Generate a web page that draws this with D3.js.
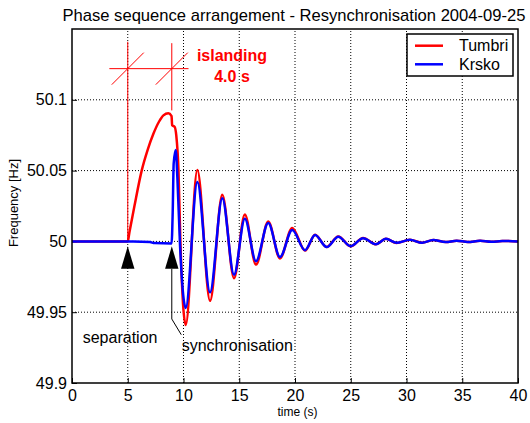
<!DOCTYPE html>
<html>
<head>
<meta charset="utf-8">
<script src="https://cdn.jsdelivr.net/npm/d3@7"></script>
<style>
  body { margin: 0; background: #fff; }
  svg { display: block; }
</style>
</head>
<body>
<div id="chart"></div>
<script>
// tick labels
const xTicks = [0, 5, 10, 15, 20, 25, 30, 35, 40];
const yTicks = [49.9, 49.95, 50, 50.05, 50.1];

// Tumbri (red)
const tumbriTime = [0, 5.0, 5.15, 5.6, 6.25, 6.8, 7.3, 7.8, 8.2, 8.64, 8.93, 8.98, 9.2, 9.35, 9.55, 9.72,
  10.2, 11.24, 12.38, 13.48, 14.53, 15.5, 16.5, 17.6, 18.65, 19.75, 20.9, 21.8, 22.84, 23.88, 25.0,
  26.1, 27.26, 28.16, 29.1, 30.3, 31.4, 32.4, 33.5, 34.5, 35.5, 36.6, 37.6, 38.6, 40];
const tumbriFreq = [50, 50, 50.0065, 50.025, 50.05, 50.065, 50.076, 50.0845, 50.089, 50.0905, 50.0885, 50.082, 50.081, 50.075, 50.05, 50.0,
  49.941, 50.0505, 49.958, 50.033, 49.974, 50.019, 49.9836, 50.014, 49.988, 50.0095, 49.9935, 50.0047, 49.996, 50.0035, 49.9965,
  50.0024, 49.998, 50.0019, 49.9989, 50.0012, 49.999, 50.001, 49.9995, 50.0005, 49.9996, 50.0004, 49.9997, 50.0003, 50.0];

// Krsko (blue)
const krskoTime = [0, 5.5, 7.0, 7.4, 8.93, 9.03, 9.12, 9.3, 9.45, 9.69,
  10.2, 11.24, 12.38, 13.48, 14.53, 15.5, 16.5, 17.6, 18.65, 19.75, 20.9, 21.8, 22.84, 23.88, 25.0,
  26.1, 27.26, 28.16, 29.1, 30.3, 31.4, 32.4, 33.5, 34.5, 35.5, 36.6, 37.6, 38.6, 40];
const krskoFreq = [50, 50, 49.9995, 49.9988, 49.9986, 50.02, 50.055, 50.0646, 50.045, 49.997,
  49.953, 50.042, 49.964, 50.0305, 49.9765, 50.016, 49.986, 50.013, 49.989, 50.008, 49.9938, 50.0045, 49.996, 50.0033, 49.9966,
  50.0023, 49.998, 50.0018, 49.999, 50.0011, 49.999, 50.001, 49.9995, 50.0005, 49.9996, 50.0004, 49.9997, 50.0003, 50.0];

const seriesNames = ["Tumbri", "Krsko"];
const seriesColors = ["#ff0000", "#0000ff"];

// events
const tSeparation = 5.0;
const tSync = 8.95;

const width = 530, height = 423;
const marginTop = 29, marginRight = 12, marginBottom = 40, marginLeft = 72;

const x = d3.scaleLinear([0, 40], [marginLeft, width - marginRight]);
const y = d3.scaleLinear([49.9, 50.15], [height - marginBottom, marginTop]);

const svg = d3.select("#chart").append("svg")
    .attr("width", width)
    .attr("height", height)
    .attr("viewBox", [0, 0, width, height])
    .attr("font-family", "'Liberation Sans', Arial, sans-serif");

// dotted grid
svg.append("g")
  .selectAll("line")
  .data(xTicks.slice(1, -1))
  .join("line")
    .attr("x1", d => x(d)).attr("x2", d => x(d))
    .attr("y1", y.range()[0]).attr("y2", y.range()[1])
    .attr("stroke", "#000")
    .attr("stroke-dasharray", "1,2");

svg.append("g")
  .selectAll("line")
  .data(yTicks.slice(1))
  .join("line")
    .attr("x1", x.range()[0]).attr("x2", x.range()[1])
    .attr("y1", d => y(d)).attr("y2", d => y(d))
    .attr("stroke", "#000")
    .attr("stroke-dasharray", "1,2");

// axes (labels only, ticks inside)
svg.append("g")
    .attr("transform", `translate(0,${height - marginBottom})`)
    .call(d3.axisBottom(x).tickValues(xTicks).tickSizeInner(-5).tickSizeOuter(0).tickPadding(7))
    .call(g => g.select(".domain").remove())
    .attr("font-size", 16).attr("font-family", null)
    .call(g => g.selectAll("text").attr("fill", "#000"));

svg.append("g")
    .attr("transform", `translate(${marginLeft},0)`)
    .call(d3.axisLeft(y).tickValues(yTicks).tickFormat(d => String(+d.toFixed(2))).tickSizeInner(-5).tickSizeOuter(0).tickPadding(5))
    .call(g => g.select(".domain").remove())
    .attr("font-size", 16).attr("font-family", null)
    .call(g => g.selectAll("text").attr("fill", "#000"));

// red islanding dimension
const dimLevel = 50.122;
const ann = svg.append("g").attr("stroke", "#ff0000").attr("stroke-width", 1).attr("fill", "none");
ann.append("line")
    .attr("x1", x(tSeparation)).attr("x2", x(tSeparation))
    .attr("y1", y(50.141)).attr("y2", y(50));
ann.append("line")
    .attr("x1", x(tSync)).attr("x2", x(tSync))
    .attr("y1", y(50.14)).attr("y2", y(50.0925));
ann.append("line")
    .attr("x1", x(3.35)).attr("x2", x(10.45))
    .attr("y1", y(dimLevel)).attr("y2", y(dimLevel));
ann.selectAll(".tick-d")
  .data([tSeparation, tSync])
  .join("line")
    .attr("x1", d => x(d) - 16).attr("x2", d => x(d) + 16)
    .attr("y1", y(dimLevel) + 16).attr("y2", y(dimLevel) - 16);

svg.append("g")
    .attr("fill", "#ff0000")
    .attr("font-weight", "bold")
    .attr("font-size", 16)
    .attr("text-anchor", "middle")
  .selectAll("text")
  .data([["islanding", 50.1275], ["4.0 s", 50.1128]])
  .join("text")
    .attr("x", x(14.35))
    .attr("y", d => y(d[1]))
    .text(d => d[0]);

// series
const line = d3.line().curve(d3.curveMonotoneX);
const series = [
  d3.zip(tumbriTime, tumbriFreq),
  d3.zip(krskoTime, krskoFreq)
];
svg.append("g")
    .attr("fill", "none")
    .attr("stroke-width", 2.5)
    .attr("stroke-linejoin", "round")
  .selectAll("path")
  .data(series)
  .join("path")
    .attr("stroke", (d, i) => seriesColors[i])
    .attr("d", d => line(d.map(([t, f]) => [x(t), y(f)])));

// arrows
const tipF = 49.9965, baseF = 49.9806;
svg.append("g")
  .selectAll("path")
  .data([tSeparation, tSync])
  .join("path")
    .attr("fill", "#000")
    .attr("d", d => `M${x(d)},${y(tipF)}L${x(d) + 6.7},${y(baseF)}L${x(d) - 6.7},${y(baseF)}Z`);

svg.append("path")
    .attr("fill", "none")
    .attr("stroke", "#000")
    .attr("stroke-width", 1)
    .attr("d", d3.line()([[x(tSync), y(baseF)], [x(tSync), y(49.9452)], [x(9.8), y(49.9341)]]));

svg.append("text")
    .attr("x", x(0.96)).attr("y", y(49.9281))
    .attr("font-size", 16).attr("fill", "#000")
    .text("separation");
svg.append("text")
    .attr("x", x(9.84)).attr("y", y(49.9223))
    .attr("font-size", 16).attr("fill", "#000")
    .text("synchronisation");

// box
svg.append("rect")
    .attr("x", x.range()[0]).attr("y", y.range()[1])
    .attr("width", x.range()[1] - x.range()[0])
    .attr("height", y.range()[0] - y.range()[1])
    .attr("fill", "none")
    .attr("stroke", "#000")
    .attr("stroke-width", 1.5);

// legend
const legend = svg.append("g").attr("transform", "translate(407,34)");
legend.append("rect")
    .attr("width", 106).attr("height", 42)
    .attr("fill", "#fff").attr("stroke", "#000").attr("stroke-width", 1.5);
const item = legend.selectAll(".item")
  .data(seriesNames)
  .join("g")
    .attr("transform", (d, i) => `translate(0,${11.7 + i * 18.6})`);
item.append("line")
    .attr("x1", 8).attr("x2", 36)
    .attr("stroke", (d, i) => seriesColors[i])
    .attr("stroke-width", 2.5);
item.append("text")
    .attr("x", 52).attr("dy", "0.36em")
    .attr("font-size", 16)
    .text(d => d);

// title and axis labels
svg.append("text")
    .attr("x", (x.range()[0] + x.range()[1]) / 2 - 1).attr("y", 20.5)
    .attr("text-anchor", "middle")
    .attr("font-size", 16.6)
    .text("Phase sequence arrangement - Resynchronisation 2004-09-25");

svg.append("text")
    .attr("x", 297.5).attr("y", 416)
    .attr("text-anchor", "middle")
    .attr("font-size", 12)
    .text("time (s)");

svg.append("text")
    .attr("transform", "translate(18,203) rotate(-90)")
    .attr("text-anchor", "middle")
    .attr("font-size", 13)
    .text("Frequency [Hz]");
</script>
</body>
</html>
